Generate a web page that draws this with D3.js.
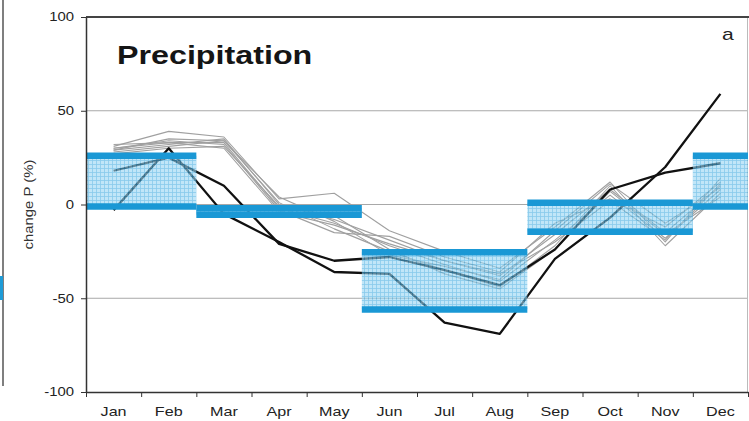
<!DOCTYPE html>
<html>
<head>
<meta charset="utf-8">
<script src="https://cdn.jsdelivr.net/npm/d3@7"></script>
<style>
  html, body { margin: 0; padding: 0; background: #fff; }
  svg { display: block; font-family: "Liberation Sans", Arial, sans-serif; }
</style>
</head>
<body>
<svg id="chart" width="749" height="421"></svg>
<script>
// ---- data ----
const months = ["Jan","Feb","Mar","Apr","May","Jun","Jul","Aug","Sep","Oct","Nov","Dec"];
const yTicks = [-100, -50, 0, 50, 100];
const gridValues = [-50, 0, 50];

// two highlighted (black) model runs
const blackA = [-3, 30, -5, -20, -36, -37, -63, -69, -29, -7, 20, 59];
const blackB = [18, 25, 10, -21, -30, -28, -35, -43, -24, 8, 17, 22];

// ensemble (grey) runs
const grey1 = [31, 39, 36, 3, 6, -14, -25, -34, -12, 12, -20, 14];
const grey2 = [29, 32, 35, 0, -8, -19, -30, -38, -16, 8, -15, 10];
const grey3 = [30, 33, 33, -2, -10, -22, -32, -41, -19, 5, -18, 8];
const grey4 = [28, 31, 34, 1, -13, -25, -35, -44, -22, 10, -22, 6];
const grey5 = [30, 34, 32, -3, -15, -17, -28, -36, -10, 3, -12, 12];
const grey6 = [27, 30, 31, -1, -6, -24, -37, -45, -24, 7, -16, 4];
const grey7 = [29, 35, 34, 4, -9, -27, -33, -40, -14, 11, -10, 9];
const grey8 = [32, 33, 30, -4, -11, -21, -30, -37, -20, 2, -19, 11];
const greyRuns = [grey1, grey2, grey3, grey4, grey5, grey6, grey7, grey8];

// seasonal ranges (month index start/end, upper/lower change)
const seasonNames = ["DJF", "MAM", "JJA", "SON", "DJF"];
const seasonStart = [0, 2, 5, 8, 11];
const seasonEnd   = [2, 5, 8, 11, 12];
const seasonHigh  = [26, -2, -25.5, 1, 26];
const seasonLow   = [-1, -5.5, -56, -14.5, -1];

const titleText = "Precipitation";
const panelLetter = "a";
const yLabel = "change P (%)";

// ---- layout ----
const svg = d3.select("#chart");
const L = 86, R = 748, T = 17, B = 392;

const x = d3.scaleBand().domain(months).range([L, R]).padding(0);
const xm = d3.scaleLinear().domain([0, 12]).range([L, R]);
const y = d3.scaleLinear().domain([-100, 100]).range([B, T]);
const cx = m => x(m) + x.bandwidth() / 2;

// hatch pattern
const defs = svg.append("defs");
const pat = defs.append("pattern").attr("id", "hatch")
  .attr("patternUnits", "userSpaceOnUse").attr("width", 4).attr("height", 4);
pat.append("rect").attr("width", 4).attr("height", 4).attr("fill", "#98d6f3");
pat.append("path").attr("d", "M0,0.5H4 M0.5,0V4").attr("stroke", "#3aa7de").attr("stroke-width", 0.8);

// neighbour-panel remnants on the left edge
svg.append("line").attr("x1", 3).attr("x2", 3).attr("y1", 0).attr("y2", 386)
  .attr("stroke", "#555").attr("stroke-width", 1.5);
svg.append("rect").attr("x", 0).attr("y", 276).attr("width", 3).attr("height", 24).attr("fill", "#1e9bd7");

// gridlines
svg.append("g").selectAll("line").data(gridValues).join("line")
  .attr("x1", L).attr("x2", R).attr("y1", d => y(d)).attr("y2", d => y(d))
  .attr("stroke", "#a8a8a8").attr("stroke-width", 1);

// right frame & top frame
svg.append("line").attr("x1", R - 0.5).attr("x2", R - 0.5).attr("y1", T).attr("y2", B)
  .attr("stroke", "#bbb").attr("stroke-width", 1);
svg.append("line").attr("x1", L).attr("x2", 749).attr("y1", y(100)).attr("y2", y(100))
  .attr("stroke", "#444").attr("stroke-width", 1.8);

const line = d3.line().x((d, i) => cx(months[i])).y(d => y(d));

// grey runs
svg.append("g").selectAll("path").data(greyRuns).join("path")
  .attr("d", line).attr("fill", "none")
  .attr("stroke", "#a0a0a0").attr("stroke-width", 1.1).attr("stroke-linejoin", "round");

// black runs
svg.append("g").selectAll("path").data([blackA, blackB]).join("path")
  .attr("d", line).attr("fill", "none")
  .attr("stroke", "#111").attr("stroke-width", 2.3).attr("stroke-linejoin", "round");

// seasonal boxes
const seasons = seasonNames.map((n, i) => ({
  n, s: seasonStart[i], e: seasonEnd[i], hi: seasonHigh[i], lo: seasonLow[i]
}));
const sg = svg.append("g");
sg.selectAll("rect.fill").data(seasons).join("rect").attr("class", "fill")
  .attr("x", d => xm(d.s)).attr("width", d => xm(d.e) - xm(d.s))
  .attr("y", d => y(d.hi)).attr("height", d => y(d.lo) - y(d.hi))
  .attr("fill", "url(#hatch)").attr("opacity", 0.6);
sg.selectAll("line.hi").data(seasons).join("line").attr("class", "hi")
  .attr("x1", d => xm(d.s)).attr("x2", d => xm(d.e))
  .attr("y1", d => y(d.hi)).attr("y2", d => y(d.hi))
  .attr("stroke", "#1a98d5").attr("stroke-width", 6.5);
sg.selectAll("line.lo").data(seasons).join("line").attr("class", "lo")
  .attr("x1", d => xm(d.s)).attr("x2", d => xm(d.e))
  .attr("y1", d => y(d.lo)).attr("y2", d => y(d.lo))
  .attr("stroke", "#1a98d5").attr("stroke-width", 6.5);

// y axis
const yAx = svg.append("g").attr("transform", `translate(${L},0)`)
  .call(d3.axisLeft(y).tickValues(yTicks).tickFormat(d => String(d))
    .tickSize(5).tickPadding(7).tickSizeOuter(0));
yAx.select(".domain").attr("stroke", "#333").attr("stroke-width", 1.5);
yAx.selectAll(".tick line").attr("stroke", "#333");
yAx.selectAll("text").attr("font-size", 12).attr("fill", "#222")
  .attr("font-family", "'Liberation Sans', Arial, sans-serif");

// x axis: boundary ticks
const xAx = svg.append("g").attr("transform", `translate(0,${B})`)
  .call(d3.axisBottom(xm).tickValues(d3.range(13)).tickSize(5).tickFormat("").tickSizeOuter(0));
xAx.select(".domain").attr("stroke", "#333").attr("stroke-width", 1.5);
xAx.selectAll(".tick line").attr("stroke", "#333");
// month labels
const xLab = svg.append("g").attr("transform", `translate(0,${B})`)
  .call(d3.axisBottom(x).tickSize(0).tickPadding(15));
xLab.select(".domain").remove();
xLab.selectAll("text").attr("font-size", 13).attr("fill", "#222")
  .attr("font-family", "'Liberation Sans', Arial, sans-serif");

// y label
svg.append("text")
  .attr("transform", `translate(33,${(T + B) / 2}) rotate(-90)`)
  .attr("text-anchor", "middle").attr("font-size", 12).attr("fill", "#333")
  .text(yLabel);

// title & letter
svg.append("text").attr("x", 117).attr("y", 64)
  .attr("font-size", 26).attr("font-weight", "bold").attr("fill", "#151515")
  .text(titleText);
svg.append("text").attr("x", 722).attr("y", 40)
  .attr("font-size", 17).attr("fill", "#222").text(panelLetter);

// horizontal stretch of the original lettering
svg.selectAll("text").each(function () {
  const len = this.getComputedTextLength();
  d3.select(this).attr("textLength", len * 1.24).attr("lengthAdjust", "spacingAndGlyphs");
});
</script>
</body>
</html>
